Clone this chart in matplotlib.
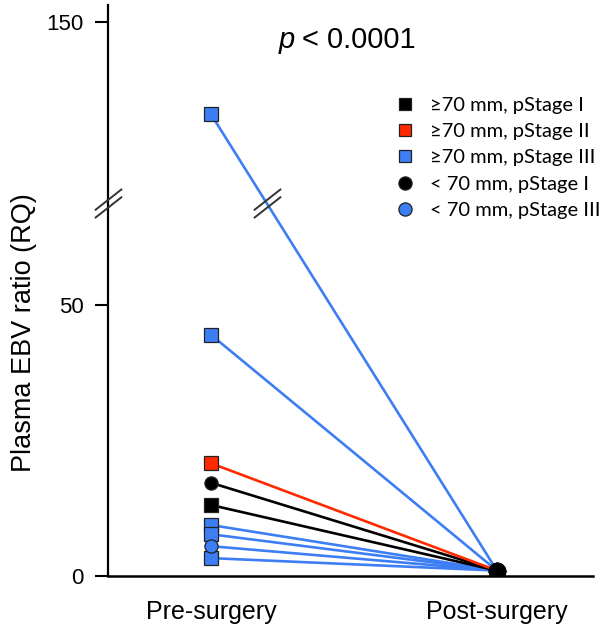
import numpy as np
import matplotlib
matplotlib.use("Agg")
import matplotlib.pyplot as plt
from matplotlib.path import Path
from matplotlib.lines import Line2D

# ---- data ----
groups = ["\u226570 mm, pStage I", "\u226570 mm, pStage II", "\u226570 mm, pStage III",
          "< 70 mm, pStage I", "< 70 mm, pStage III"]
pre_values = {
    groups[0]: [13.1],
    groups[1]: [20.8],
    groups[2]: [124.0, 44.5, 9.4, 7.7, 3.3],
    groups[3]: [17.2],
    groups[4]: [5.5],
}
post_values = {
    groups[0]: [1.0],
    groups[1]: [1.0],
    groups[2]: [1.0, 1.0, 1.0, 1.0, 1.0],
    groups[3]: [1.0],
    groups[4]: [1.0],
}
categories = ["Pre-surgery", "Post-surgery"]
yticks = [0, 50, 150]
p_text = "< 0.0001"

# ---- styles ----
BLUE = "#3d7ef5"
RED = "#ff2a00"
styles = {
    groups[0]: dict(color="black", marker="s"),
    groups[1]: dict(color=RED, marker="s"),
    groups[2]: dict(color=BLUE, marker="s"),
    groups[3]: dict(color="black", marker="o"),
    groups[4]: dict(color=BLUE, marker="o"),
}

# broken-axis mapping
xp = np.array([0.0, 68.0, 100.0, 200.0])
fp = np.array([0.0, 68.0, 69.5, 69.5 + 100 * 0.654])


def fwd(v):
    v = np.asarray(v, dtype=float)
    out = np.interp(v, xp, fp)
    out = np.where(v < 0, v, out)
    return out


def inv(d):
    d = np.asarray(d, dtype=float)
    out = np.interp(d, fp, xp)
    out = np.where(d < 0, d, out)
    return out


BREAK_VAL = 85.0

plt.rcParams["font.family"] = ["Liberation Sans", "DejaVu Sans"]

fig = plt.figure(figsize=(6.02, 6.27), dpi=100)
ax = fig.add_axes([108 / 602, 1 - 576 / 627, (593 - 108) / 602, (576 - 5) / 627])
ax.set_yscale("function", functions=(fwd, inv))
ax.set_ylim(0, 154.8)
ax.set_xlim(-0.36, 1.336)

draw_order = [groups[2], groups[4], groups[0], groups[3], groups[1]]
for g in draw_order:
    st = styles[g]
    for pre, post in zip(pre_values[g], post_values[g]):
        ax.plot([0, 1], [pre, post], color=st["color"], lw=1.9, zorder=2,
                solid_capstyle="round")
for g in draw_order:
    st = styles[g]
    ax.plot(np.zeros(len(pre_values[g])), pre_values[g], linestyle="none",
            marker=st["marker"], markersize=9.5, markerfacecolor=st["color"],
            markeredgecolor="#222222", markeredgewidth=0.9, zorder=4)
all_post = sum((post_values[g] for g in groups), [])
ax.plot(np.ones(len(all_post)), all_post, linestyle="none", marker="o",
        markersize=11.5, markerfacecolor="black", markeredgecolor="black", zorder=5)

# break marks
verts = [(-14, 0), (14, 22), (-14, -8), (14, 14)]
verts = [(x, y - 7) for x, y in verts]
codes = [Path.MOVETO, Path.LINETO, Path.MOVETO, Path.LINETO]
brk = Path(verts, codes)
ax.plot([-0.36], [BREAK_VAL], linestyle="none", marker=brk, markersize=21,
        markeredgecolor="#333333", markeredgewidth=1.4, clip_on=False, zorder=6)
# break on the tallest line
top_pre = max(pre_values[groups[2]])
top_post = post_values[groups[2]][pre_values[groups[2]].index(top_pre)]
t = (fwd(top_pre) - fwd(BREAK_VAL)) / (fwd(top_pre) - fwd(top_post))
ax.plot([float(t)], [BREAK_VAL], linestyle="none", marker=brk, markersize=21,
        markeredgecolor="#333333", markeredgewidth=1.4, zorder=6)

# axes styling
for s in ["top", "right"]:
    ax.spines[s].set_visible(False)
ax.spines["left"].set_linewidth(1.6)
ax.spines["bottom"].set_linewidth(1.8)
ax.set_yticks(yticks)
ax.set_yticklabels([str(v) for v in yticks], fontsize=16, family=["Liberation Sans"])
ax.yaxis.set_minor_locator(matplotlib.ticker.NullLocator())
ax.tick_params(axis="y", length=9.5, width=1.5, pad=8)
ax.set_xticks([0, 1])
ax.set_xticklabels(categories, fontsize=18, family=["Liberation Sans"])
ax.tick_params(axis="x", length=0, pad=17)
ax.set_ylabel("Plasma EBV ratio (RQ)", fontsize=19.5, family=["Liberation Sans"])
ax.yaxis.label.set_va("center")
ax.yaxis.set_label_coords((24 - 108) / 485, (576 - 333) / 571)

fig.text(279 / 602, 1 - 40 / 627, "p", fontsize=21, style="italic",
         family=["Liberation Sans"], ha="left", va="center")
fig.text(302 / 602, 1 - 40 / 627, p_text, fontsize=21,
         family=["Liberation Sans"], ha="left", va="center")

# legend
handles = []
for g in groups:
    st = styles[g]
    handles.append(Line2D([], [], linestyle="none", marker=st["marker"],
                          markersize=9 if st["marker"] == "s" else 9.5,
                          markerfacecolor=st["color"], markeredgecolor="#222222",
                          markeredgewidth=0.9))
leg = ax.legend(handles, groups, loc="upper left",
                bbox_to_anchor=(395 / 602, 1 - 97 / 627), bbox_transform=fig.transFigure,
                frameon=False, handlelength=1.0, handletextpad=0.75,
                labelspacing=0.45, borderaxespad=0, borderpad=0,
                prop={"family": ["Lato", "DejaVu Sans"], "size": 14.5})

fig.savefig("out.png", dpi=100)
